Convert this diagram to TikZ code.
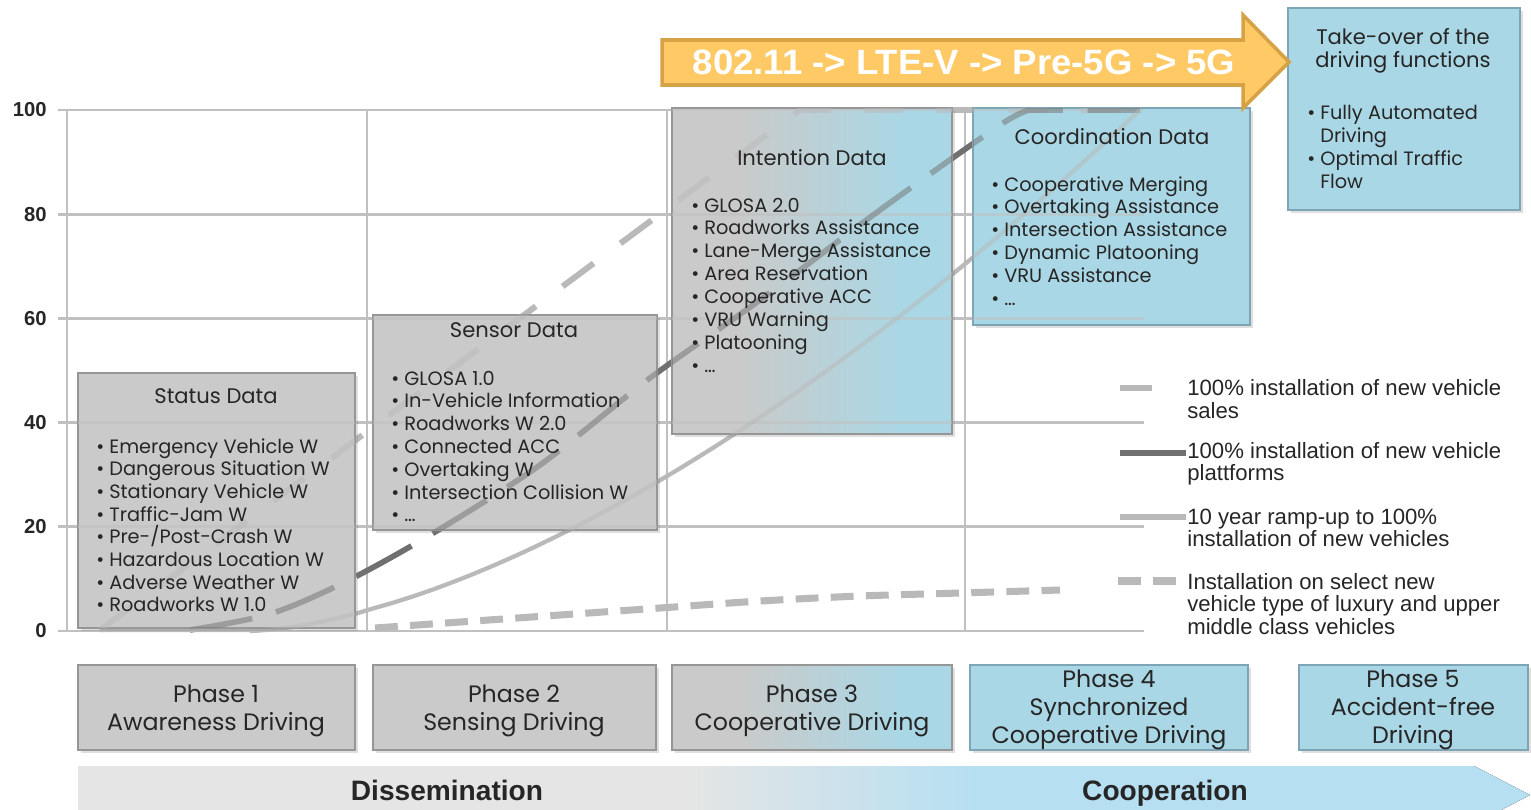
\documentclass[tikz,border=0pt]{standalone}
\usepackage{fontspec}
\usepackage{graphicx}
\setmainfont{Poppins}
\newfontfamily\legendfont{Liberation Sans}
\usetikzlibrary{shadows}

\definecolor{gridgray}{RGB}{192,192,192}
\definecolor{boxgray}{RGB}{202,202,202}
\definecolor{boxedge}{RGB}{150,150,150}
\definecolor{boxblue}{RGB}{170,215,229}
\definecolor{blueedge}{RGB}{125,165,182}
\definecolor{txtgray}{RGB}{38,38,38}
\definecolor{lightline}{RGB}{185,185,185}
\definecolor{darkline}{RGB}{112,112,112}
\definecolor{arrowfill}{RGB}{255,201,102}
\definecolor{arrowedge}{RGB}{214,162,70}
\definecolor{bandgray}{RGB}{229,229,229}
\definecolor{bandblue}{RGB}{182,223,242}

% gray on the left, blue on the right (25bp..75bp is the path)
\pgfdeclarehorizontalshading{grayblue}{100bp}{color(0bp)=(boxgray); color(37bp)=(boxgray); color(66bp)=(boxblue); color(100bp)=(boxblue)}
\pgfdeclarehorizontalshading{bandshade}{100bp}{color(0bp)=(bandgray); color(46bp)=(bandgray); color(56bp)=(bandblue); color(100bp)=(bandblue)}

\newcommand{\itm}[1]{\makebox[0.26cm][l]{\textbullet}#1}

% grid and curves, drawn twice (under and over the boxes)
\newcommand{\chartlines}{%
  \foreach \v in {0,20,...,100}
    \draw[grid] (58,{631-5.21*\v}) -- (1144,{631-5.21*\v});
  \foreach \x in {67,367,667,965}
    \draw[grid] (\x,110) -- (\x,631);
  \draw[sales] (100,630) -- (800,110) -- (1140,110);
  \draw[platforms] plot[smooth] coordinates {(190,630) (270,614) (345,582) (430,535) (540,465) (650,378) (760,300) (880,210) (1000,125) (1030,110)} -- (1140,110);
  \draw[rampup] (100,630) -- (252,630) -- plot[domain=252:1140, samples=45] (\x,{631-521*((\x-250)/890)^1.6});
  \draw[select] plot[smooth] coordinates {(375,628) (460,622) (560,615) (660,608) (760,601) (860,596) (960,593) (1060,590)};
}

\tikzset{
  grid/.style={gridgray, line width=1.6pt},
  ticklabel/.style={anchor=east, inner sep=0pt, text=txtgray, font=\legendfont\bfseries\fontsize{11.5}{14}\selectfont},
  sales/.style={lightline, line width=3.4pt, dash pattern=on 22pt off 19pt},
  platforms/.style={darkline, line width=3.2pt, dash pattern=on 36pt off 14pt},
  rampup/.style={lightline, line width=2.4pt},
  select/.style={lightline, line width=4pt, dash pattern=on 13pt off 7pt},
  boxshadow/.style={drop shadow={shadow xshift=1.5pt, shadow yshift=-1.5pt, opacity=0.25}},
  graybox/.style={boxshadow, draw=boxedge, line width=1pt, fill=boxgray},
  bluebox/.style={boxshadow, draw=blueedge, line width=1pt, fill=boxblue},
  mixbox/.style={boxshadow, draw=boxedge, line width=1pt, shading=grayblue},
  boxtitle/.style={text=txtgray, font=\fontsize{12}{14}\selectfont},
  item/.style={anchor=base west, inner sep=0pt, text=txtgray, font=\fontsize{11}{13}\selectfont},
  phase/.style={align=center, text=txtgray, font=\fontsize{13.5}{16}\selectfont},
  legendtext/.style={anchor=west, align=left, inner sep=0pt, text=txtgray, font=\legendfont\fontsize{12.6}{12.7}\selectfont},
  bandtext/.style={anchor=base, text=txtgray, font=\legendfont\bfseries\fontsize{16}{18}\selectfont}
}

\begin{document}
\begin{tikzpicture}[x=0.02cm,y=-0.02cm]
\useasboundingbox[fill=white] (0,0) rectangle (1531,809);

\chartlines
\foreach \v in {0,20,...,100}
  \node[ticklabel] (tick-\v) at (47,{631-5.21*\v}) {\v};

% data boxes
\filldraw[graybox] (78,373) rectangle (355,628);
\filldraw[graybox] (373,315) rectangle (657,530);
\filldraw[mixbox] (672,108) rectangle (952,434);
\filldraw[bluebox] (973,108) rectangle (1250,325);
\filldraw[bluebox] (1288,8) rectangle (1520,210);

% lines showing through the boxes
\begin{scope}[opacity=0.5]
  \clip (78,373) rectangle (355,628) (373,315) rectangle (657,530) (672,108) rectangle (952,434) (973,108) rectangle (1250,325);
  \chartlines
\end{scope}

\node[boxtitle] (status) at (216,396) {Status Data};
\foreach \t [count=\i from 0] in {Emergency Vehicle W, Dangerous Situation W, Stationary Vehicle W, Traffic-Jam W, Pre-/Post-Crash W, Hazardous Location W, Adverse Weather W, Roadworks W 1.0}
  \node[item] (status-\i) at (96,{453+22.7*\i}) {\itm{\t}};

\node[boxtitle] (sensor) at (514,330) {Sensor Data};
\foreach \t [count=\i from 0] in {GLOSA 1.0, In-Vehicle Information, Roadworks W 2.0, Connected ACC, Overtaking W, Intersection Collision W, \ldots}
  \node[item] (sensor-\i) at (391,{385+22.8*\i}) {\itm{\t}};

\node[boxtitle] (intention) at (812,158) {Intention Data};
\foreach \t [count=\i from 0] in {GLOSA 2.0, Roadworks Assistance, Lane-Merge Assistance, Area Reservation, Cooperative ACC, VRU Warning, Platooning, \ldots}
  \node[item] (intention-\i) at (691,{212+22.9*\i}) {\itm{\t}};

\node[boxtitle] (coord) at (1112,137) {Coordination Data};
\foreach \t [count=\i from 0] in {Cooperative Merging, Overtaking Assistance, Intersection Assistance, Dynamic Platooning, VRU Assistance, \ldots}
  \node[item] (coord-\i) at (991,{191+22.8*\i}) {\itm{\t}};

\node[boxtitle] (takeover) at (1403,37) {Take-over of the};
\node[boxtitle] (takeover-2) at (1403,62) {driving functions};
\node[item] (takeover-3) at (1307,119) {\itm{Fully Automated}};
\node[item] (takeover-4) at (1320,142) {Driving};
\node[item] (takeover-5) at (1307,165) {\itm{Optimal Traffic}};
\node[item] (takeover-6) at (1320,188) {Flow};

% technology arrow
\filldraw[fill=arrowfill, draw=arrowedge, line width=2pt] (662,40) -- (1243,40) -- (1243,15) -- (1289,62) -- (1243,108) -- (1243,85) -- (662,85) -- cycle;
\node[text=white, font=\legendfont\bfseries\fontsize{20}{22}\selectfont] (tech) at (964,62) {\scalebox{1.04}[1]{802.11 -> LTE-V -> Pre-5G -> 5G}};

% legend
\draw[sales, dash pattern=] (1120,388) -- (1152,388);
\node[legendtext] (leg-sales) at (1187,399) {100\% installation of new vehicle\\sales};
\draw[platforms, dash pattern=] (1120,453) -- (1186,453);
\node[legendtext] (leg-platforms) at (1187,464) {100\% installation of new vehicle\\plattforms};
\draw[rampup, line width=3pt] (1120,517) -- (1186,517);
\node[legendtext] (leg-rampup) at (1187,528) {10 year ramp-up to 100\%\\installation of new vehicles};
\draw[select] (1118,581) -- (1186,581);
\node[legendtext] (leg-select) at (1187,604) {Installation on select new\\vehicle type of luxury and upper\\middle class vehicles};

% phases
\filldraw[graybox] (78,665) rectangle (355,750);
\filldraw[graybox] (373,665) rectangle (656,750);
\filldraw[mixbox] (672,665) rectangle (952,750);
\filldraw[bluebox] (970,665) rectangle (1248,750);
\filldraw[bluebox] (1299,665) rectangle (1528,750);
\node[phase] (phase-1) at (216,711) {Phase 1\\Awareness Driving};
\node[phase] (phase-2) at (514,711) {Phase 2\\Sensing Driving};
\node[phase] (phase-3) at (812,711) {Phase 3\\Cooperative Driving};
\node[phase] (phase-4) at (1109,710) {Phase 4\\Synchronized\\Cooperative Driving};
\node[phase] (phase-5) at (1413,710) {Phase 5\\Accident-free\\Driving};

% bottom band
\fill[shading=bandshade] (78,766) -- (1474,766) -- (1530,795) -- (1474,824) -- (78,824) -- cycle;
\node[bandtext] (dissem) at (447,800) {Dissemination};
\node[bandtext] (coop) at (1165,800) {Cooperation};
\end{tikzpicture}
\end{document}
